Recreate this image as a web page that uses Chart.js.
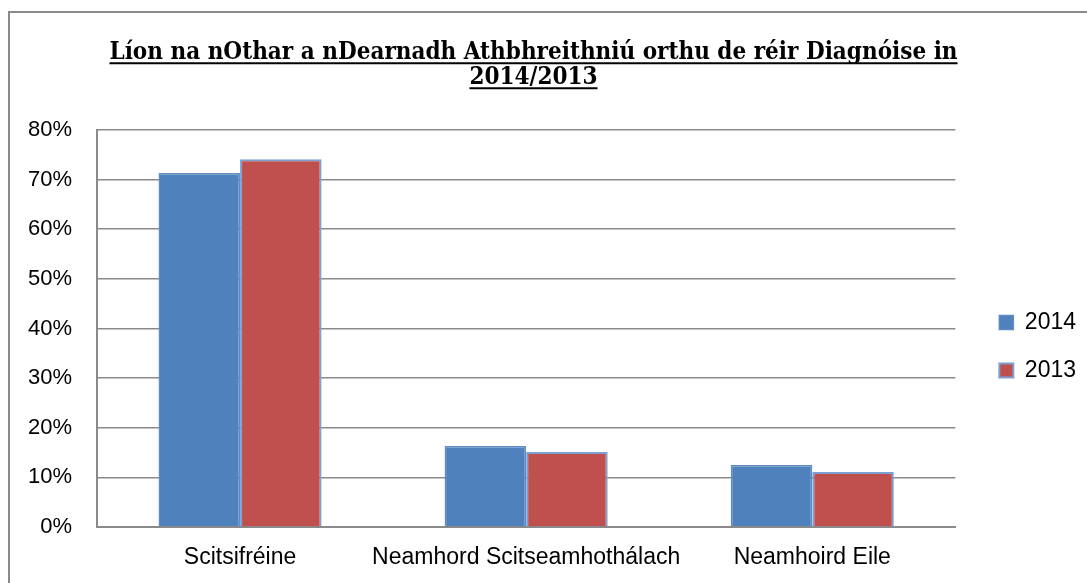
<!DOCTYPE html>
<html>
<head>
<meta charset="utf-8">
<script src="https://cdn.jsdelivr.net/npm/chart.js@4"></script>
<style>
  html, body { margin: 0; padding: 0; background: #fff; overflow: hidden; }
  #wrap { position: relative; width: 1087px; height: 583px; }
  #frame { position: absolute; left: 8px; top: 11px; width: 1100px; height: 600px;
           border: 2px solid #8a8a8a; pointer-events: none; }
</style>
</head>
<body>
<div id="wrap">
  <canvas id="c" width="1087" height="583"></canvas>
  <div id="frame"></div>
</div>
<script>
// categories and values (percent)
const categories = ['Scitsifréine', 'Neamhord Scitseamhothálach', 'Neamhoird Eile'];
const values2014 = [71.3, 16.3, 12.5];
const values2013 = [74.1, 15.1, 11.1];
const titleLines = ['Líon na nOthar a nDearnadh Athbhreithniú orthu de réir Diagnóise in', '2014/2013'];

// underline the title lines (Chart.js title can't do it)
const underlineTitle = {
  id: 'underlineTitle',
  afterDraw(chart) {
    const t = chart.titleBlock;
    if (!t) return;
    const ctx = chart.ctx;
    const f = Chart.helpers.toFont(t.options.font);
    const pad = Chart.helpers.toPadding(t.options.padding);
    const cx = (t.left + t.right) / 2;
    ctx.save();
    ctx.font = f.string;
    ctx.strokeStyle = '#000';
    ctx.lineWidth = 2;
    titleLines.forEach((line, i) => {
      const w = ctx.measureText(line).width;
      const y = t.top + pad.top + f.lineHeight / 2 + i * f.lineHeight + f.size * 0.45;
      ctx.beginPath();
      ctx.moveTo(cx - w / 2, y);
      ctx.lineTo(cx + w / 2, y);
      ctx.stroke();
    });
    ctx.restore();
  }
};

// legend sits lower and a bit further right than Chart.js puts it
const moveLegend = {
  id: 'moveLegend',
  afterLayout(chart) {
    const l = chart.legend;
    l.left += 19; l.right += 19;
    l.top += 55; l.bottom += 55;
  }
};

new Chart(document.getElementById('c'), {
  type: 'bar',
  data: {
    labels: categories,
    datasets: [
      { label: '2014', data: values2014, backgroundColor: '#4f81bd', borderColor: '#5f8cc5', borderWidth: 1.5 },
      { label: '2013', data: values2013, backgroundColor: '#c0504d', borderColor: '#7ba0d4', borderWidth: 2 }
    ]
  },
  options: {
    responsive: false,
    animation: false,
    datasets: { bar: { barPercentage: 1, categoryPercentage: 0.57 } },
    layout: { padding: { left: 0, right: 20, top: 0, bottom: 0 } },
    plugins: {
      title: {
        display: true,
        text: titleLines,
        color: '#000',
        font: { family: 'DejaVu Serif Condensed', size: 24, weight: 'bold', lineHeight: 1.04 },
        padding: { top: 40, bottom: 40 }
      },
      legend: {
        position: 'right',
        labels: {
          color: '#000',
          font: { family: 'Liberation Sans', size: 23 },
          boxWidth: 14, boxHeight: 14,
          padding: 25
        }
      },
      tooltip: { enabled: false }
    },
    scales: {
      x: {
        afterFit(s) { s.height = 56; },
        grid: { display: false, drawTicks: false },
        border: { color: '#8a8a8a', width: 2 },
        ticks: { color: '#000', font: { family: 'Liberation Sans', size: 23 }, padding: 17,
                 maxRotation: 0, minRotation: 0, autoSkip: false }
      },
      y: {
        min: 0, max: 80,
        afterFit(s) { s.width = 97; },
        grid: { color: '#8a8a8a', lineWidth: 1.5, drawTicks: false },
        border: { color: '#8a8a8a', width: 2 },
        ticks: { stepSize: 10, color: '#000', font: { family: 'Liberation Sans', size: 22 }, padding: 25,
                 callback: v => v + '%' }
      }
    }
  },
  plugins: [underlineTitle, moveLegend]
});
</script>
</body>
</html>
